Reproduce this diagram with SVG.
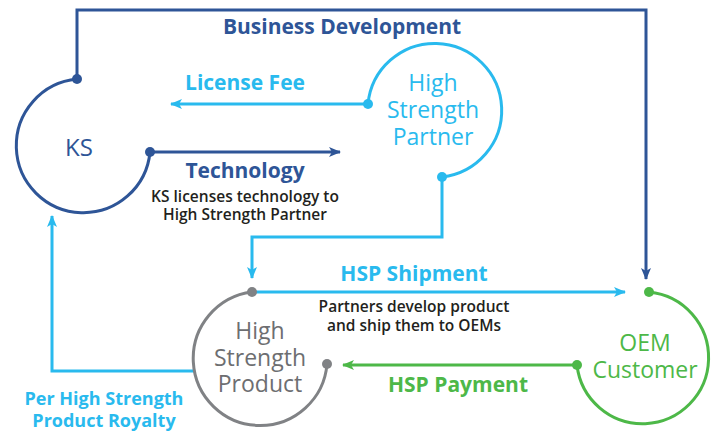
<svg xmlns="http://www.w3.org/2000/svg" width="718" height="432" viewBox="0 0 718 432">
<style>
.t{font-family:"Open Sans","Noto Sans","Liberation Sans",sans-serif;text-anchor:middle;dominant-baseline:central}
.b{font-weight:bold;font-size:21px}
.n{font-size:23px;font-weight:500}
.s{font-size:15.5px;fill:#231F20;font-weight:600}
.ln{fill:none;stroke-width:3}
.db{stroke:#2E5597}.lb{stroke:#29BAEE}.gr{stroke:#808285}.gn{stroke:#4DB848}
</style>
<defs>
<marker id="ad" viewBox="0 0 12 10" refX="11" refY="5" markerWidth="12" markerHeight="10" markerUnits="userSpaceOnUse" orient="auto"><path d="M0,0 L12,5 L0,10 L3,5 z" fill="#2E5597"/></marker>
<marker id="al" viewBox="0 0 12 10" refX="11" refY="5" markerWidth="12" markerHeight="10" markerUnits="userSpaceOnUse" orient="auto"><path d="M0,0 L12,5 L0,10 L3,5 z" fill="#29BAEE"/></marker>
<marker id="ag" viewBox="0 0 12 10" refX="11" refY="5" markerWidth="12" markerHeight="10" markerUnits="userSpaceOnUse" orient="auto"><path d="M0,0 L12,5 L0,10 L3,5 z" fill="#4DB848"/></marker>
</defs>
<g id="connectors">
<polyline class="ln db" points="77,79 77,10 646,10 646,279" marker-end="url(#ad)"/>
<line class="ln lb" x1="368" y1="104" x2="171" y2="104" marker-end="url(#al)"/>
<line class="ln db" x1="150" y1="152" x2="340" y2="152" marker-end="url(#ad)"/>
<polyline class="ln lb" points="442,177 442,237 252,237 252,278" marker-end="url(#al)"/>
<line class="ln lb" x1="252" y1="292" x2="625" y2="292" marker-end="url(#al)"/>
<polyline class="ln lb" points="194,371 52,371 52,216" marker-end="url(#al)"/>
<line class="ln gn" x1="577" y1="365" x2="343" y2="365" marker-end="url(#ag)"/>
<text class="t b" x="342" y="26" fill="#2E5597">Business Development</text>
<text class="t b" x="245" y="82" fill="#29BAEE">License Fee</text>
<text class="t b" x="245" y="170" fill="#2E5597">Technology</text>
<text class="t s" x="245" y="196">KS licenses technology to</text>
<text class="t s" x="245" y="214">High Strength Partner</text>
<text class="t b" x="414" y="273" fill="#29BAEE">HSP Shipment</text>
<text class="t s" x="414" y="306">Partners develop product</text>
<text class="t s" x="414" y="325">and ship them to OEMs</text>
<text class="t b" x="458" y="384" fill="#4DB848">HSP Payment</text>
<text class="t b" x="104" y="398" fill="#29BAEE" style="font-size:18px">Per High Strength</text>
<text class="t b" x="104" y="420" fill="#29BAEE" style="font-size:18px">Product Royalty</text>
</g>
<g id="ks">
<path class="ln db" d="M77,79 A67,67 0 1 0 150,152"/>
<circle cx="77" cy="79" r="5" fill="#2E5597"/>
<circle cx="150" cy="152" r="5" fill="#2E5597"/>
<text class="t n" x="79" y="146" fill="#2E5597" style="font-size:24px">KS</text>
</g>
<g id="hsp">
<path class="ln lb" d="M368,104 A67,67 0 1 1 442,177"/>
<circle cx="368" cy="104" r="5" fill="#29BAEE"/>
<circle cx="442" cy="177" r="5" fill="#29BAEE"/>
<text class="t n" x="433" y="82" fill="#29BAEE">High</text>
<text class="t n" x="433" y="109" fill="#29BAEE">Strength</text>
<text class="t n" x="433" y="136" fill="#29BAEE">Partner</text>
</g>
<g id="product">
<path class="ln gr" d="M252,292 A67,67 0 1 0 327,364"/>
<circle cx="252" cy="292" r="5" fill="#808285"/>
<circle cx="327" cy="364" r="5" fill="#808285"/>
<text class="t n" x="260" y="330" fill="#6D6E71">High</text>
<text class="t n" x="260" y="357" fill="#6D6E71">Strength</text>
<text class="t n" x="260" y="383" fill="#6D6E71">Product</text>
</g>
<g id="oem">
<path class="ln gn" d="M649,292 A66,66 0 1 1 577,365"/>
<circle cx="649" cy="292" r="5" fill="#4DB848"/>
<circle cx="577" cy="365" r="5" fill="#4DB848"/>
<text class="t n" x="645" y="342" fill="#4DB848">OEM</text>
<text class="t n" x="645" y="369" fill="#4DB848">Customer</text>
</g>
</svg>
